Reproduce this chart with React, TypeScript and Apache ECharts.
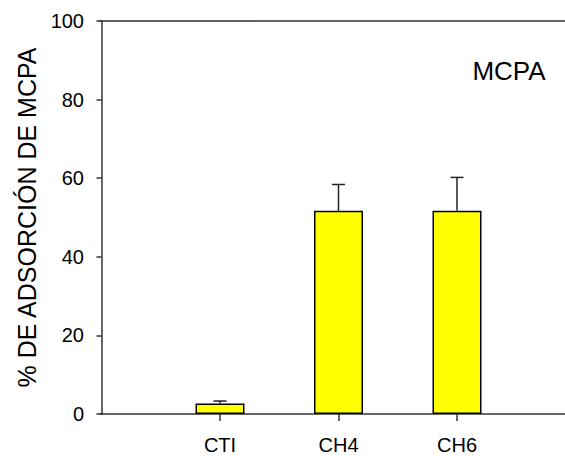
import React, { useEffect, useRef } from "react";
import * as echarts from "echarts";

const categories = ["CTI", "CH4", "CH6"];
const categoryPositions = [1, 2, 3];
const adsorption = [2.7, 51.7, 51.7];
const errorUpper = [3.3, 58.4, 60.2];
const yTicks = [0, 20, 40, 60, 80, 100];

const FONT = "'Liberation Sans', Arial, sans-serif";
const X_MIN = -0.0127;
const X_MAX = 4.0802;

export default function App() {
  const ref = useRef<HTMLDivElement>(null);
  useEffect(() => {
    if (!ref.current) return;
    const chart = echarts.init(ref.current, null, { renderer: "svg" });
    const barData = categoryPositions.map((p, i) => [p, adsorption[i]]);
    const errData = categoryPositions.map((p, i) => [p, adsorption[i], errorUpper[i]]);
    chart.setOption({
      animation: false,
      backgroundColor: "#ffffff",
      grid: {
        left: 100,
        right: -20,
        top: 21,
        bottom: 42,
        containLabel: false,
        outerBoundsMode: "none",
      },
      xAxis: [
        {
          type: "value",
          min: X_MIN,
          max: X_MAX,
          splitLine: { show: false },
          axisLine: { show: true, onZero: false, lineStyle: { color: "#333", width: 1.5 } },
          axisTick: {
            show: true,
            customValues: categoryPositions,
            length: 7,
            lineStyle: { color: "#333", width: 1.5 },
          },
          axisLabel: {
            show: true,
            customValues: categoryPositions,
            margin: 21,
            fontSize: 20,
            lineHeight: 20,
            fontFamily: FONT,
            color: "#000",
            formatter: (v: number) => categories[Math.round(v) - 1] ?? "",
          },
        },
        {
          type: "value",
          position: "top",
          min: X_MIN,
          max: X_MAX,
          splitLine: { show: false },
          axisLine: { show: true, onZero: false, lineStyle: { color: "#333", width: 1.5 } },
          axisTick: { show: false },
          axisLabel: { show: false },
        },
      ],
      yAxis: {
        type: "value",
        min: 0,
        max: 100,
        interval: 20,
        splitLine: { show: false },
        axisLine: { show: true, lineStyle: { color: "#333", width: 1.5 } },
        axisTick: { show: true, length: 5, lineStyle: { color: "#333", width: 1.5 } },
        axisLabel: {
          margin: 16,
          fontSize: 20,
          fontFamily: FONT,
          color: "#000",
          formatter: (v: number) => (yTicks.includes(v) ? String(v) : ""),
        },
        name: "% DE ADSORCIÓN DE MCPA",
        nameLocation: "middle",
        nameRotate: 90,
        nameGap: 61,
        nameTextStyle: { fontSize: 25, fontFamily: FONT, color: "#000" },
      },
      graphic: [
        {
          type: "text",
          x: 509,
          y: 71,
          style: {
            text: "MCPA",
            fontSize: 26,
            fontFamily: FONT,
            fill: "#000",
            textAlign: "center",
            textVerticalAlign: "middle",
          },
        },
      ],
      series: [
        {
          type: "bar",
          data: barData,
          barWidth: 49,
          itemStyle: { color: "#ffff00", borderColor: "#000", borderWidth: 1.5 },
          z: 2,
        },
        {
          type: "custom",
          data: errData,
          encode: { x: 0, y: [1, 2] },
          z: 3,
          renderItem: (params: any, api: any) => {
            const x = api.value(0);
            const v = api.value(1);
            const e = api.value(2);
            const p0 = api.coord([x, v]);
            const p1 = api.coord([x, e]);
            const half = 6.5;
            const st = { stroke: "#222", lineWidth: 1.5 };
            return {
              type: "group",
              children: [
                { type: "line", shape: { x1: p0[0], y1: p0[1], x2: p1[0], y2: p1[1] }, style: st },
                { type: "line", shape: { x1: p1[0] - half, y1: p1[1], x2: p1[0] + half, y2: p1[1] }, style: st },
              ],
            };
          },
        },
      ],
    });
    return () => chart.dispose();
  }, []);
  return (
    <div
      ref={ref}
      style={{ position: "absolute", left: 0, top: 0, width: 565, height: 456 }}
    />
  );
}
